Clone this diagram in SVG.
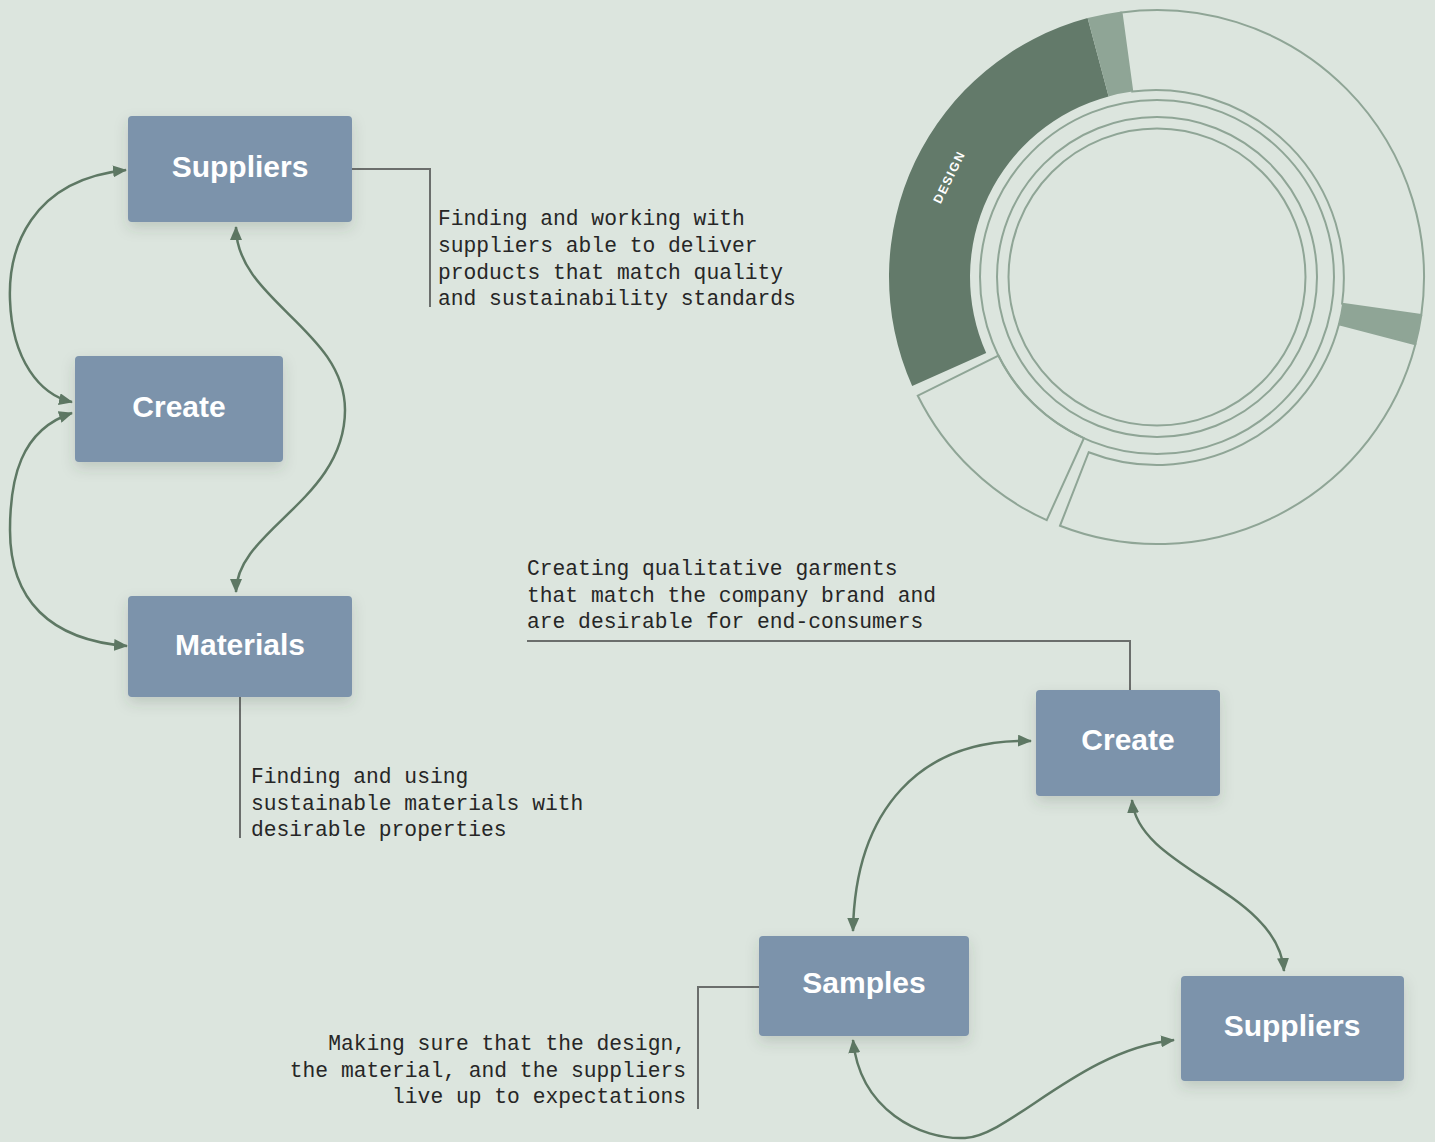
<svg xmlns="http://www.w3.org/2000/svg" width="1435" height="1142" viewBox="0 0 1435 1142">
<style>
.node rect{fill:#7b93ab;filter:url(#sh)}
.node text{font-family:"Liberation Sans",Arial,sans-serif;font-weight:bold;font-size:30px;fill:#ffffff;text-anchor:middle}
.note{font-family:"Liberation Mono","DejaVu Sans Mono",monospace;font-size:21.3px;fill:#262626}
.lead{fill:none;stroke:#6b6e6c;stroke-width:2}
.conn path{fill:none;stroke:#5e7864;stroke-width:2.5;marker-start:url(#ah);marker-end:url(#ah)}
.seg{fill:none;stroke:#8fa596;stroke-width:2}
.slice{fill:#8fa596}
.dark{fill:#637a6a}
</style>
<defs>
<filter id="sh" x="-20%" y="-20%" width="140%" height="160%">
<feDropShadow dx="0" dy="6" stdDeviation="7" flood-color="#34473a" flood-opacity="0.18"/>
</filter>
<marker id="ah" viewBox="0 0 14 12" refX="13" refY="6" markerWidth="14" markerHeight="12" markerUnits="userSpaceOnUse" orient="auto-start-reverse">
<path d="M0,0 L14,6 L0,12 Z" fill="#5e7864"/>
</marker>
</defs>
<rect x="0" y="0" width="1435" height="1142" fill="#dce5de"/>

<g id="donut">
<path class="dark" d="M912.2,386 A268,268 0 0 1 1087.6,18.1 L1108.6,96.4 A187,187 0 0 0 986.2,353.1 Z"/>
<path class="slice" d="M1087.6,18.1 A268 268 0 0 1 1121.5,11.4 L1132.3,91.6 A187 187 0 0 0 1108.6,96.4 Z"/>
<path class="seg" d="M1121.5,12.4 A267 267 0 0 1 1421.3,315 L1342.1,303.7 A188 188 0 0 0 1132.3,91.6 Z"/>
<path class="slice" d="M1422.3,315.2 A268 268 0 0 1 1416.3,344.6 L1338,324.1 A187 187 0 0 0 1342.1,303.7 Z"/>
<path class="seg" d="M1415.4,344.3 A267 267 0 0 1 1060,525.8 L1088.7,452.2 A188 188 0 0 0 1338.9,324.4 Z"/>
<path class="seg" d="M1046.7,520.2 A267 267 0 0 1 917.8,395.7 L998.5,355.7 A177 177 0 0 0 1083.9,438.2 Z"/>
<circle class="seg" cx="1157" cy="277" r="177"/>
<circle class="seg" cx="1157" cy="277" r="160"/>
<circle class="seg" cx="1157" cy="277" r="148.5"/>
<text transform="translate(949,177) rotate(-64)" x="0" y="4.5" font-family="Liberation Sans,Arial,sans-serif" font-weight="bold" font-size="12.5" letter-spacing="1.5" fill="#ffffff" text-anchor="middle">DESIGN</text>
</g>

<g id="leaders">
<path class="lead" d="M352,169 H430 V307"/>
<path class="lead" d="M240,697 V838"/>
<path class="lead" d="M527,641 H1130 V690"/>
<path class="lead" d="M759,987 H698 V1109"/>
</g>

<g id="connectors" class="conn">
<path d="M126,170 C 30,180 8,250 10,300 C 12,360 40,395 72,402"/>
<path d="M72,413 C 20,430 10,480 10,530 C 10,600 50,640 127,646"/>
<path d="M236,227 C 236,300 345,330 345,410 C 345,500 236,530 236,592"/>
<path d="M1031,741 C 920,738 855,810 853,931"/>
<path d="M1132,800 C 1138,870 1278,890 1284,971"/>
<path d="M853,1040 C 860,1110 920,1140 965,1138 C 1010,1136 1080,1050 1174,1040"/>
</g>

<g id="node-suppliers-left" class="node">
<rect x="128" y="116" width="224" height="106" rx="4"/>
<text x="240" y="177">Suppliers</text>
</g>
<g id="node-create-left" class="node">
<rect x="75" y="356" width="208" height="106" rx="4"/>
<text x="179" y="417">Create</text>
</g>
<g id="node-materials" class="node">
<rect x="128" y="596" width="224" height="101" rx="4"/>
<text x="240" y="655">Materials</text>
</g>
<g id="node-create-right" class="node">
<rect x="1036" y="690" width="184" height="106" rx="4"/>
<text x="1128" y="750">Create</text>
</g>
<g id="node-samples" class="node">
<rect x="759" y="936" width="210" height="100" rx="4"/>
<text x="864" y="993">Samples</text>
</g>
<g id="node-suppliers-right" class="node">
<rect x="1181" y="976" width="223" height="105" rx="4"/>
<text x="1292" y="1036">Suppliers</text>
</g>

<g id="notes">
<text class="note" x="438" y="225">Finding and working with</text>
<text class="note" x="438" y="252">suppliers able to deliver</text>
<text class="note" x="438" y="278.5">products that match quality</text>
<text class="note" x="438" y="305">and sustainability standards</text>
<text class="note" x="251" y="783">Finding and using</text>
<text class="note" x="251" y="810">sustainable materials with</text>
<text class="note" x="251" y="836">desirable properties</text>
<text class="note" x="527" y="575">Creating qualitative garments</text>
<text class="note" x="527" y="602">that match the company brand and</text>
<text class="note" x="527" y="628">are desirable for end-consumers</text>
<text class="note" x="686" y="1050" text-anchor="end">Making sure that the design,</text>
<text class="note" x="686" y="1077" text-anchor="end">the material, and the suppliers</text>
<text class="note" x="686" y="1103" text-anchor="end">live up to expectations</text>
</g>
</svg>
